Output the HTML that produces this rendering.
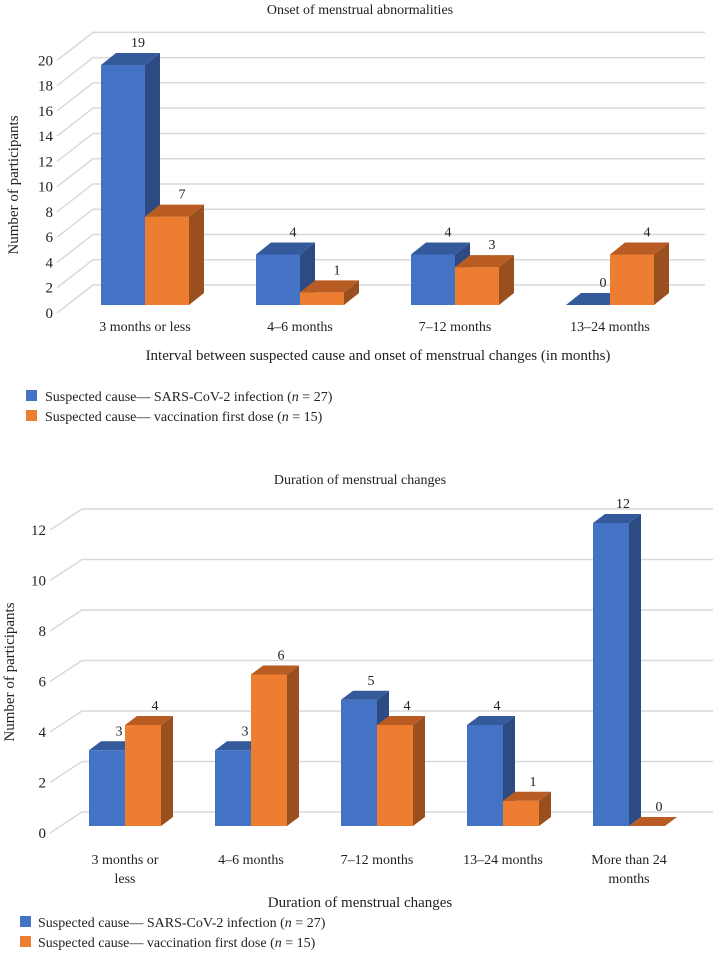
<!DOCTYPE html>
<html><head><meta charset="utf-8"><style>
body{margin:0;background:#fff;width:720px;height:958px;overflow:hidden;font-family:"Liberation Serif",serif;}
svg text{font-family:"Liberation Serif",serif;fill:#222;}
</style></head><body>
<svg id="svg" width="720" height="958">
<text x="360" y="14" text-anchor="middle" font-size="14">Onset of menstrual abnormalities</text>
<text x="18" y="185" text-anchor="middle" font-size="15" transform="rotate(-90 18 185)">Number of participants</text>
<text x="378" y="360" text-anchor="middle" font-size="15">Interval between suspected cause and onset of menstrual changes (in months)</text>
<rect x="26" y="390" width="11" height="11" fill="#4472c4"/>
<text x="45" y="401" font-size="14">Suspected cause— SARS-CoV-2 infection (<tspan font-style="italic">n</tspan> = 27)</text>
<rect x="26" y="410" width="11" height="11" fill="#ed7d31"/>
<text x="45" y="421" font-size="14">Suspected cause— vaccination first dose (<tspan font-style="italic">n</tspan> = 15)</text>

<text x="360" y="484" text-anchor="middle" font-size="14">Duration of menstrual changes</text>
<text x="14" y="672" text-anchor="middle" font-size="15" transform="rotate(-90 14 672)">Number of participants</text>
<text x="360" y="907" text-anchor="middle" font-size="15">Duration of menstrual changes</text>
<rect x="20" y="916" width="11" height="11" fill="#4472c4"/>
<text x="38" y="927" font-size="14">Suspected cause— SARS-CoV-2 infection (<tspan font-style="italic">n</tspan> = 27)</text>
<rect x="20" y="936" width="11" height="11" fill="#ed7d31"/>
<text x="38" y="947" font-size="14">Suspected cause— vaccination first dose (<tspan font-style="italic">n</tspan> = 15)</text>
</svg>
<script>
const c1Categories=[["3 months or less"],["4–6 months"],["7–12 months"],["13–24 months"]];
const c1Infection=[19,4,4,0];
const c1Vaccination=[7,1,3,4];
const c1Ticks=[0,2,4,6,8,10,12,14,16,18,20];
const c2Categories=[["3 months or","less"],["4–6 months"],["7–12 months"],["13–24 months"],["More than 24","months"]];
const c2Infection=[3,3,5,4,12];
const c2Vaccination=[4,6,4,1,0];
const c2Ticks=[0,2,4,6,8,10,12];

const NS="http://www.w3.org/2000/svg";
const svg=document.getElementById('svg');
function mk(t,a){const e=document.createElementNS(NS,t);for(const k in a)e.setAttribute(k,a[k]);svg.appendChild(e);return e;}

function draw(o){
  const y=v=>o.base-v*o.unit;
  o.ticks.forEach(t=>{
    const fy=y(t)+o.fOff;
    const g=mk('polyline',{points:`${o.tx+4},${fy} ${o.gx0},${fy-o.gdy} ${o.gx1},${fy-o.gdy}`,fill:'none',stroke:'#d9d9d9','stroke-width':1.5});
    
    
    const l=mk('text',{x:o.tx,y:fy+5,'text-anchor':'end','font-size':15});
    l.textContent=t;
    
    
  });
  const series=[[o.s1,'#4472c4','#2e4a82','#345a9c'],[o.s2,'#ed7d31','#9a4f1f','#b85c23']];
  o.cats.forEach((cat,i)=>{
    const cx=o.c0+i*o.step;
    series.forEach((s,j)=>{
      const v=s[0][i];const x=cx-o.w+j*o.w;const top=y(v);
      const f=mk('rect',{x:x,y:top,width:o.w,height:o.base-top,fill:s[1]});
      
      
      const sd=mk('polygon',{points:`${x+o.w},${top} ${x+o.w+o.dx},${top-o.dy} ${x+o.w+o.dx},${o.base-o.dy} ${x+o.w},${o.base}`,fill:s[2]});
      
      
      const tp=mk('polygon',{points:`${x},${top} ${x+o.dx},${top-o.dy} ${x+o.w+o.dx},${top-o.dy} ${x+o.w},${top}`,fill:s[3]});
      
      
      const lb=mk('text',{x:x+o.w/2+o.dx,y:top-o.dy-6,'text-anchor':'middle','font-size':14});
      lb.textContent=v;
      
      
    });
    cat.forEach((line,k)=>{
      const t=mk('text',{x:cx,y:o.ly+k*19,'text-anchor':'middle','font-size':14});
      t.textContent=line;
      
      
    });
  });
}
draw({cats:c1Categories,s1:c1Infection,s2:c1Vaccination,ticks:c1Ticks,base:305,unit:12.63,fOff:8,tx:53,gx0:93,gx1:705,gdy:28,c0:145,step:155,w:44,dx:15,dy:12,ly:331});
draw({cats:c2Categories,s1:c2Infection,s2:c2Vaccination,ticks:c2Ticks,base:826,unit:25.25,fOff:7,tx:46,gx0:82,gx1:713,gdy:21,c0:125,step:126,w:36,dx:12,dy:9,ly:864});
</script>
</body></html>
